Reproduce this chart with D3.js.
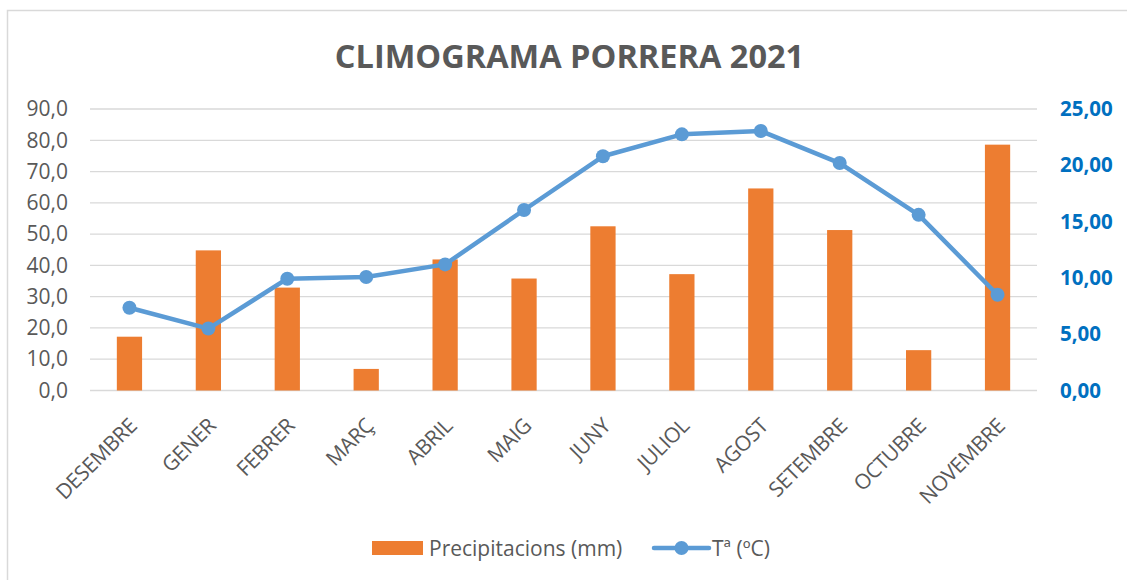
<!DOCTYPE html>
<html>
<head>
<meta charset="utf-8">
<script src="https://cdn.jsdelivr.net/npm/d3@7"></script>
<style>
  html, body { margin: 0; padding: 0; background: #fff; }
  svg { display: block; }
</style>
</head>
<body>
<svg id="chart" width="1127" height="580"></svg>
<script>
const title = "CLIMOGRAMA PORRERA 2021";
const months = ["DESEMBRE","GENER","FEBRER","MARÇ","ABRIL","MAIG","JUNY","JULIOL","AGOST","SETEMBRE","OCTUBRE","NOVEMBRE"];
const precipitation = [17.2, 44.8, 32.9, 6.9, 41.9, 35.8, 52.5, 37.2, 64.6, 51.3, 12.9, 78.6];
const temperature = [7.35, 5.5, 9.93, 10.08, 11.2, 16.03, 20.8, 22.75, 23.05, 20.2, 15.6, 8.5];
const leftTicks = [0,10,20,30,40,50,60,70,80,90];
const rightTicks = [0,5,10,15,20,25];
const seriesNames = ["Precipitacions (mm)", "Tª (ºC)"];

const svg = d3.select("#chart");
const font = "'Open Sans', sans-serif";
const grey = "#595959";
const barColor = "#ED7D31";
const lineColor = "#5B9BD5";

// outer border
svg.append("rect").attr("x", 7.5).attr("y", 10.5).attr("width", 1200).attr("height", 700)
  .attr("fill", "none").attr("stroke", "#D9D9D9").attr("stroke-width", 1.5);

const plot = {left: 90, right: 1037, top: 109, bottom: 390.5};

const x = d3.scaleBand().domain(months).range([plot.left, plot.right]).paddingInner(0.68).paddingOuter(0.34);
const xc = d3.scaleBand().domain(months).range([plot.left, plot.right]);
const yL = d3.scaleLinear().domain([0, 90]).range([plot.bottom, plot.top]);
const yR = d3.scaleLinear().domain([0, 25]).range([plot.bottom, plot.top]);

// gridlines
svg.append("g").selectAll("line").data(leftTicks).join("line")
  .attr("x1", plot.left).attr("x2", plot.right)
  .attr("y1", d => yL(d)).attr("y2", d => yL(d))
  .attr("stroke", "#D9D9D9").attr("stroke-width", 1.3);

// left axis
const fmt1 = d => d3.format(".1f")(d).replace(".", ",");
const fmt2 = d => d3.format(".2f")(d).replace(".", ",");
const la = svg.append("g").attr("transform", `translate(${plot.left - 22},0)`)
  .call(d3.axisLeft(yL).tickValues(leftTicks).tickFormat(fmt1).tickSize(0).tickPadding(0));
la.select(".domain").remove();
la.selectAll("text").attr("font-family", font).attr("font-size", 21).attr("fill", grey);

// right axis
const ra = svg.append("g").attr("transform", `translate(${plot.right + 23},0)`)
  .call(d3.axisRight(yR).tickValues(rightTicks).tickFormat(fmt2).tickSize(0).tickPadding(0));
ra.select(".domain").remove();
ra.selectAll("text").attr("font-family", font).attr("font-size", 20.5).attr("font-weight", "bold").attr("fill", "#0070C0");

// bars
svg.append("g").selectAll("rect").data(months).join("rect")
  .attr("x", (d) => x(d)).attr("width", x.bandwidth())
  .attr("y", (d, i) => yL(precipitation[i]))
  .attr("height", (d, i) => yL(0) - yL(precipitation[i]))
  .attr("fill", barColor);

// line
const line = d3.line().x((d, i) => xc(months[i]) + xc.bandwidth() / 2).y(d => yR(d));
svg.append("path").datum(temperature).attr("d", line)
  .attr("fill", "none").attr("stroke", lineColor).attr("stroke-width", 4.5).attr("stroke-linejoin", "round");
svg.append("g").selectAll("circle").data(temperature).join("circle")
  .attr("cx", (d, i) => xc(months[i]) + xc.bandwidth() / 2).attr("cy", d => yR(d))
  .attr("r", 7).attr("fill", lineColor);

// x labels
svg.append("g").selectAll("text").data(months).join("text")
  .attr("transform", d => `translate(${xc(d) + xc.bandwidth() / 2 - 2},${plot.bottom + 26}) rotate(-45)`)
  .attr("text-anchor", "end").attr("dy", "0.72em")
  .attr("font-family", font).attr("font-size", 21).attr("letter-spacing", -0.4).attr("fill", grey)
  .text(d => d);

// title
svg.append("text").attr("x", 569.5).attr("y", 67.5).attr("text-anchor", "middle")
  .attr("font-family", font).attr("font-weight", "bold").attr("font-size", 32.5).attr("fill", grey)
  .text(title);

// legend
const lg = svg.append("g");
lg.append("rect").attr("x", 372).attr("y", 541).attr("width", 51).attr("height", 14).attr("fill", barColor);
lg.append("text").attr("x", 429).attr("y", 555.5).attr("font-family", font).attr("font-size", 21).attr("fill", grey).text(seriesNames[0]);
lg.append("line").attr("x1", 654).attr("x2", 709).attr("y1", 548).attr("y2", 548)
  .attr("stroke", lineColor).attr("stroke-width", 4.5).attr("stroke-linecap", "round");
lg.append("circle").attr("cx", 681.5).attr("cy", 548).attr("r", 7).attr("fill", lineColor);
lg.append("text").attr("x", 712).attr("y", 555.5).attr("font-family", font).attr("font-size", 21).attr("fill", grey).text(seriesNames[1]);
</script>
</body>
</html>
